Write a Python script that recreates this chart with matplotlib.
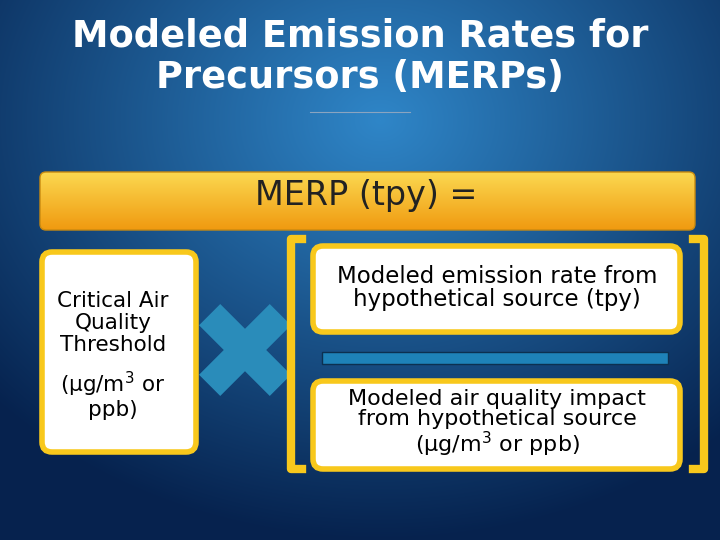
import numpy as np
import matplotlib
matplotlib.use("Agg")
import matplotlib.pyplot as plt
from matplotlib.patches import FancyBboxPatch, Polygon, Rectangle

title_lines = ["Modeled Emission Rates for", "Precursors (MERPs)"]
header = "MERP (tpy) ="
left_text = "Critical Air\nQuality\nThreshold"
left_units = "(μg/m$^3$ or\nppb)"
top_text = "Modeled emission rate from\nhypothetical source (tpy)"
bot_text = "Modeled air quality impact\nfrom hypothetical source\n(μg/m$^3$ or ppb)"

fig = plt.figure(figsize=(7.2, 5.4), dpi=100)
ax = fig.add_axes([0, 0, 1, 1])
ax.set_xlim(0, 720); ax.set_ylim(540, 0); ax.axis("off")

yy, xx = np.mgrid[0:540, 0:720]
d = np.sqrt(((xx - 380) / 520) ** 2 + ((yy - 120) / 420) ** 2)
d = np.clip(d, 0, 1)
c0 = np.array([0x2f, 0x86, 0xc8]) / 255
c1 = np.array([0x06, 0x22, 0x4e]) / 255
img = c0[None, None, :] * (1 - d[..., None]) + c1[None, None, :] * d[..., None]
ax.imshow(img, extent=[0, 720, 540, 0], zorder=0)

ax.text(360, 36, title_lines[0], color="white", fontsize=26.5, fontweight="bold", ha="center", va="center")
ax.text(360, 77, title_lines[1], color="white", fontsize=26.5, fontweight="bold", ha="center", va="center")
ax.plot([310, 410], [112, 112], color="#8aa4c0", lw=0.8)

bar = FancyBboxPatch((40, 172), 655, 58, boxstyle="round,pad=0,rounding_size=6",
                     fc="none", ec="#c88a10", lw=1, zorder=3)
ax.add_patch(bar)
g = np.linspace(0, 1, 60)[:, None]
top = np.array([0xfb, 0xd8, 0x50]) / 255
botc = np.array([0xf0, 0x9a, 0x10]) / 255
gimg = top[None, None, :] * (1 - g[..., None]) + botc[None, None, :] * g[..., None]
gimg = np.repeat(gimg, 2, axis=1)
im = ax.imshow(gimg, extent=[40, 695, 230, 172], zorder=2, aspect="auto")
im.set_clip_path(bar)
ax.text(366, 195, header, fontsize=24, color="#222222", ha="center", va="center", zorder=4)

yellow = "#f8c81c"
def box(x, y, w, h):
    ax.add_patch(FancyBboxPatch((x, y), w, h, boxstyle="round,pad=0,rounding_size=10",
                                fc="white", ec=yellow, lw=4, zorder=3))

box(42, 252, 154, 200)
ax.text(113, 323, left_text, fontsize=15.5, ha="center", va="center", zorder=4, linespacing=1.15)
ax.text(113, 395, left_units, fontsize=15.5, ha="center", va="center", zorder=4, linespacing=1.1)

cx, cy, L, W = 245, 350, 50, 15
pts = []
for k in range(4):
    a = np.deg2rad(45 + 90 * k)
    u = np.array([np.cos(a), np.sin(a)]); v = np.array([-u[1], u[0]])
    c = np.array([cx, cy])
    pts.append(c + L * u - W * v)
    pts.append(c + L * u + W * v)
    a2 = np.deg2rad(45 + 90 * k + 45)
    w2 = np.array([np.cos(a2), np.sin(a2)])
    pts.append(c + W * np.sqrt(2) * w2)
ax.add_patch(Polygon(pts, closed=True, fc="#2a8cba", ec="none", zorder=3))

ax.plot([302, 291, 291, 302], [239, 239, 469, 469], color=yellow, lw=6, solid_joinstyle="round", zorder=3)
ax.plot([693, 704, 704, 693], [239, 239, 469, 469], color=yellow, lw=6, solid_joinstyle="round", zorder=3)

box(313, 246, 367, 86)
ax.text(497, 288, top_text, fontsize=16.5, ha="center", va="center", zorder=4, linespacing=1.05)
ax.add_patch(Rectangle((322, 352), 346, 12, fc="#1e82b8", ec="#0c3050", lw=1, zorder=3))
box(313, 381, 367, 88)
ax.text(497, 424, bot_text, fontsize=16, ha="center", va="center", zorder=4, linespacing=1.0)

fig.savefig("out.png", dpi=100)
